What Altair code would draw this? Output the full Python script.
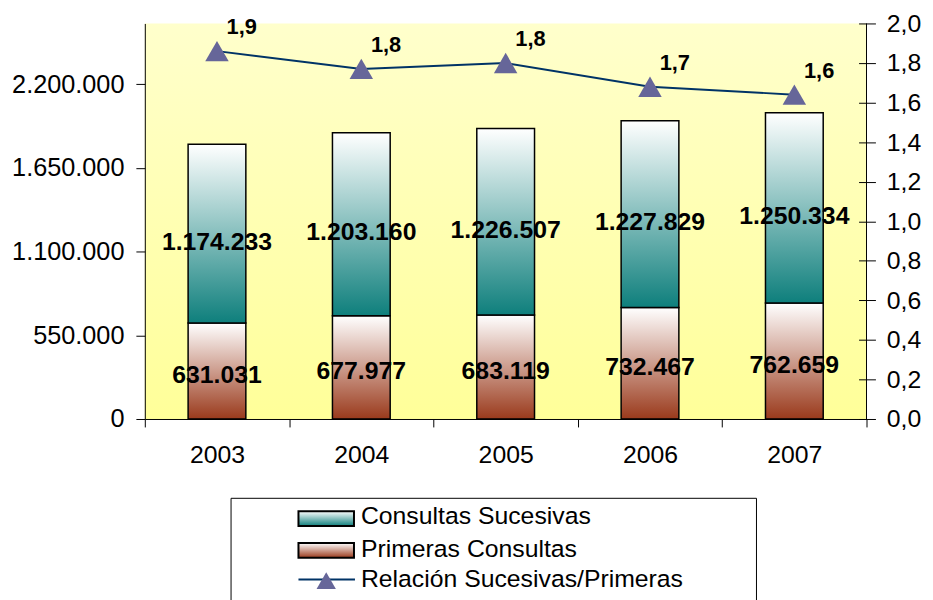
import altair as alt
import pandas as pd

# ---------------- data ----------------
years = ["2003", "2004", "2005", "2006", "2007"]
primeras = [631031, 677977, 683119, 732467, 762659]
sucesivas = [1174233, 1203160, 1226507, 1227829, 1250334]
ratio = [1.86, 1.77, 1.80, 1.68, 1.64]

left_ticks = [0, 550000, 1100000, 1650000, 2200000]
right_ticks = [0.0, 0.2, 0.4, 0.6, 0.8, 1.0, 1.2, 1.4, 1.6, 1.8, 2.0]

legend_labels = ["Consultas Sucesivas", "Primeras Consultas", "Relación Sucesivas/Primeras"]

df = pd.DataFrame({"year": years, "primeras": primeras, "sucesivas": sucesivas, "ratio": ratio})

# ---------------- styling ----------------
W, H = 728, 399
FONT = "Liberation Sans"
TEAL = "#0E7F7C"
BROWN = "#9A3A1C"
NAVY = "#003366"
TRI = "#666699"


def vgrad(top, bottom):
    return alt.LinearGradient(
        gradient="linear", x1=0, y1=0, x2=0, y2=1,
        stops=[alt.GradientStop(offset=0, color=top), alt.GradientStop(offset=1, color=bottom)],
    )


x_enc = alt.X(
    "year:N",
    sort=years,
    scale=alt.Scale(paddingInner=0, paddingOuter=0),
    axis=alt.Axis(
        title=None, labelAngle=0, tickBand="extent", tickSize=8, labelPadding=16,
        labelFontSize=25, domainColor="black", tickColor="black", zindex=1,
    ),
)

y_left_scale = alt.Scale(domain=[0, 2600000], nice=False, zero=True)
y_left_axis = alt.Axis(
    title=None, values=left_ticks, format=",.0f", tickSize=9, labelPadding=12,
    labelFontSize=25.5, domainColor="black", tickColor="black", grid=False, zindex=1,
)

# background of the plot area
bg = alt.Chart(alt.Data(values=[{}])).mark_rect(fill=vgrad("#FFFFCC", "#FFFF99")).encode(
    x=alt.value(0), x2=alt.value(W), y=alt.value(0), y2=alt.value(H)
)

base = alt.Chart(df).transform_calculate(
    total="datum.primeras + datum.sucesivas",
    mid_p="datum.primeras / 2",
    mid_s="datum.primeras + datum.sucesivas / 2",
)

bar_p = base.mark_bar(
    fill=vgrad("#FFFFFF", BROWN), stroke="black", strokeWidth=1.5,
    width=alt.RelativeBandSize(0.4),
).encode(
    x=x_enc,
    y=alt.Y("primeras:Q", scale=y_left_scale, axis=y_left_axis),
)

bar_s = base.mark_bar(
    fill=vgrad("#FFFFFF", TEAL), stroke="black", strokeWidth=1.5,
    width=alt.RelativeBandSize(0.4),
).encode(
    x=x_enc,
    y=alt.Y("total:Q", scale=y_left_scale, axis=y_left_axis),
    y2="primeras:Q",
)

txt_p = base.mark_text(fontWeight="bold", fontSize=25, color="black", baseline="middle", dy=4).encode(
    x=x_enc,
    y=alt.Y("mid_p:Q", scale=y_left_scale, axis=y_left_axis),
    text=alt.Text("primeras:Q", format=",.0f"),
)

txt_s = base.mark_text(fontWeight="bold", fontSize=25, color="black", baseline="middle", dy=8).encode(
    x=x_enc,
    y=alt.Y("mid_s:Q", scale=y_left_scale, axis=y_left_axis),
    text=alt.Text("sucesivas:Q", format=",.0f"),
)

left = alt.layer(bg, bar_p, bar_s, txt_p, txt_s)

# right axis: ratio line
y_right_scale = alt.Scale(domain=[0, 2], nice=False, zero=True)
y_right_axis = alt.Axis(
    title=None, orient="right", values=right_ticks, format=".1f", offset=-8,
    tickSize=17, labelPadding=11, domain=False, labelFontSize=25,
    tickColor="black", grid=False, zindex=1,
)
y_r = alt.Y("ratio:Q", scale=y_right_scale, axis=y_right_axis)

line = alt.Chart(df).mark_line(color=NAVY, strokeWidth=2).encode(x=x_enc, y=y_r)
pts = alt.Chart(df).mark_point(shape="triangle-up", size=560, filled=True, color=TRI, opacity=1).encode(
    x=x_enc, y=y_r
)
ltxt = alt.Chart(df).mark_text(fontWeight="bold", fontSize=22, dx=25, dy=-24, color="black").encode(
    x=x_enc, y=y_r, text=alt.Text("ratio:Q", format=".1f")
)
right = alt.layer(line, pts, ltxt)

# right axis domain line
rdomain = alt.Chart(alt.Data(values=[{}])).mark_rule(color="black", strokeWidth=1).encode(
    x=alt.value(W), y=alt.value(0), y2=alt.value(H)
)

# ---------------- custom legend ----------------
leg_box = alt.Chart(alt.Data(values=[{}])).mark_rect(fill="white", stroke="black", strokeWidth=1).encode(
    x=alt.value(87), x2=alt.value(617), y=alt.value(479), y2=alt.value(600)
)
sw1 = alt.Chart(alt.Data(values=[{}])).mark_rect(fill=vgrad("#FFFFFF", TEAL), stroke="black", strokeWidth=2).encode(
    x=alt.value(155), x2=alt.value(211), y=alt.value(492), y2=alt.value(507)
)
sw2 = alt.Chart(alt.Data(values=[{}])).mark_rect(fill=vgrad("#FFFFFF", BROWN), stroke="black", strokeWidth=2).encode(
    x=alt.value(155), x2=alt.value(211), y=alt.value(524), y2=alt.value(539)
)
lg_line = alt.Chart(alt.Data(values=[{}])).mark_rule(color=NAVY, strokeWidth=2).encode(
    x=alt.value(155), x2=alt.value(212), y=alt.value(561)
)
lg_tri = alt.Chart(alt.Data(values=[{}])).mark_point(shape="triangle-up", size=380, filled=True, color=TRI, opacity=1).encode(
    x=alt.value(183), y=alt.value(562)
)


def leg_text(label, ypix):
    return alt.Chart(pd.DataFrame({"label": [label]})).mark_text(
        align="left", baseline="middle", fontSize=25, color="black"
    ).encode(text="label:N", x=alt.value(218), y=alt.value(ypix))


lt1 = leg_text(legend_labels[0], 497)
lt2 = leg_text(legend_labels[1], 530)
lt3 = leg_text(legend_labels[2], 560)

chart = alt.layer(
    left, right, rdomain, leg_box, sw1, sw2, lg_line, lg_tri, lt1, lt2, lt3
).resolve_scale(y="independent").properties(
    width=W, height=H,
    padding={"left": 138, "top": 13, "right": 59, "bottom": 180},
    autosize=alt.AutoSizeParams(type="none"),
    background="white",
).configure(
    font=FONT,
    locale={"number": {"decimal": ",", "thousands": ".", "grouping": [3], "currency": ["", "€"]}},
).configure_view(stroke=None).configure_axis(labelFont=FONT, labelColor="black").configure_text(font=FONT)

chart.save("out.html", embed_options={"renderer": "svg", "actions": False})
